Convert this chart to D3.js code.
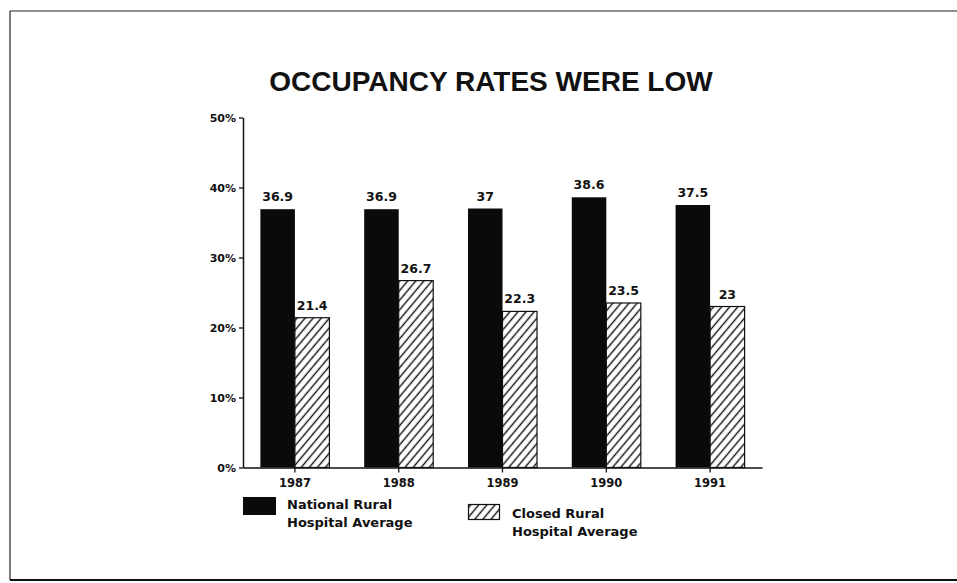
<!DOCTYPE html>
<html>
<head>
<meta charset="utf-8">
<script src="https://cdn.jsdelivr.net/npm/d3@7"></script>
<style>
  html, body { margin: 0; padding: 0; background: #fff; }
  svg { display: block; }
</style>
</head>
<body>
<svg id="chart" width="957" height="583"></svg>
<script>
const title = "OCCUPANCY RATES WERE LOW";
const years = ["1987", "1988", "1989", "1990", "1991"];
const nationalRural = [36.9, 36.9, 37, 38.6, 37.5];
const closedRural = [21.4, 26.7, 22.3, 23.5, 23];
const yTicks = [0, 10, 20, 30, 40, 50];
const seriesNames = [["National Rural", "Hospital Average"], ["Closed Rural", "Hospital Average"]];

(function () {
const svg = d3.select("#chart");
const smallFont = "'DejaVu Sans', sans-serif";

// hatch pattern
const defs = svg.append("defs");
defs.append("pattern")
  .attr("id", "hatch")
  .attr("patternUnits", "userSpaceOnUse")
  .attr("width", 6.2).attr("height", 10)
  .attr("patternTransform", "rotate(40)")
  .append("line")
  .attr("x1", 3.1).attr("y1", -1).attr("x2", 3.1).attr("y2", 11)
  .attr("stroke", "#111").attr("stroke-width", 1.4);

// frame
svg.append("line").attr("x1", 10).attr("y1", 11).attr("x2", 957).attr("y2", 11)
  .attr("stroke", "#222").attr("stroke-width", 1.2);
svg.append("line").attr("x1", 10).attr("y1", 11).attr("x2", 10).attr("y2", 580)
  .attr("stroke", "#222").attr("stroke-width", 1.2);
svg.append("line").attr("x1", 10).attr("y1", 580).attr("x2", 957).attr("y2", 580)
  .attr("stroke", "#111").attr("stroke-width", 2.2);

// title
svg.append("text")
  .attr("x", 491).attr("y", 91)
  .attr("text-anchor", "middle")
  .style("font-family", "'Liberation Sans', Arial, sans-serif")
  .style("font-weight", "bold")
  .style("font-size", "28px")
  .attr("fill", "#111")
  .text(title);

const pLeft = 243, pRight = 762, pTop = 117.5, pBottom = 467.5;

const y = d3.scaleLinear().domain([0, 50]).range([pBottom, pTop]);
const x0 = d3.scaleBand().domain(years).range([pLeft, pRight]).paddingInner(0.335).paddingOuter(0.1675);
const x1 = d3.scaleBand().domain([0, 1]).range([0, x0.bandwidth()]);

const data = years.map((yr, i) => ({ year: yr, vals: [nationalRural[i], closedRural[i]] }));

const groups = svg.append("g").selectAll("g").data(data).join("g")
  .attr("transform", d => `translate(${x0(d.year)},0)`);

groups.selectAll("rect").data(d => d.vals.map((v, k) => ({ v, k }))).join("rect")
  .attr("x", d => x1(d.k))
  .attr("y", d => y(d.v))
  .attr("width", x1.bandwidth())
  .attr("height", d => y(0) - y(d.v))
  .attr("fill", d => d.k === 0 ? "#0a0a0a" : "url(#hatch)")
  .attr("stroke", "#111")
  .attr("stroke-width", d => d.k === 0 ? 0 : 1.2);

groups.selectAll("text.val").data(d => d.vals.map((v, k) => ({ v, k }))).join("text")
  .attr("class", "val")
  .attr("x", d => x1(d.k) + x1.bandwidth() / 2)
  .attr("y", d => y(d.v) - 8)
  .attr("text-anchor", "middle")
  .style("font-family", smallFont)
  .style("font-weight", "bold")
  .style("font-size", "12.5px")
  .attr("fill", "#111")
  .text(d => String(d.v));

// y axis
const yAxis = svg.append("g").attr("transform", `translate(${pLeft},0)`)
  .call(d3.axisLeft(y).tickValues(yTicks).tickFormat(d => d + "%").tickSize(4).tickSizeOuter(0));
yAxis.select(".domain").attr("stroke", "#111").attr("stroke-width", 1.5);
yAxis.selectAll(".tick line").attr("stroke", "#111").attr("stroke-width", 1.3);
yAxis.selectAll(".tick text")
  .attr("x", -7)
  .style("font-family", smallFont).style("font-weight", "bold").style("font-size", "11px")
  .attr("fill", "#111");

// x axis
const xAxis = svg.append("g").attr("transform", `translate(0,${pBottom})`)
  .call(d3.axisBottom(x0).tickSize(5).tickSizeOuter(0));
xAxis.select(".domain").attr("stroke", "#111").attr("stroke-width", 1.5);
xAxis.selectAll(".tick line").attr("stroke", "#111").attr("stroke-width", 1.3);
xAxis.selectAll(".tick text")
  .attr("y", 11)
  .style("font-family", smallFont).style("font-weight", "bold").style("font-size", "11.5px")
  .attr("fill", "#111");

// legend
const legend = svg.append("g");
legend.append("rect").attr("x", 243).attr("y", 497).attr("width", 33).attr("height", 18).attr("fill", "#0a0a0a");
legend.append("rect").attr("x", 468.5).attr("y", 504.5).attr("width", 31).attr("height", 15)
  .attr("fill", "url(#hatch)").attr("stroke", "#111").attr("stroke-width", 1.2);
const legPos = [{ x: 287, y: 509 }, { x: 512, y: 517.5 }];
seriesNames.forEach((lines, i) => {
  const t = legend.append("text")
    .attr("x", legPos[i].x).attr("y", legPos[i].y)
    .style("font-family", smallFont).style("font-weight", "bold").style("font-size", "13px")
    .attr("fill", "#111");
  lines.forEach((ln, j) => {
    t.append("tspan").attr("x", legPos[i].x).attr("dy", j === 0 ? 0 : 18).text(ln);
  });
});
})();
</script>
</body>
</html>
